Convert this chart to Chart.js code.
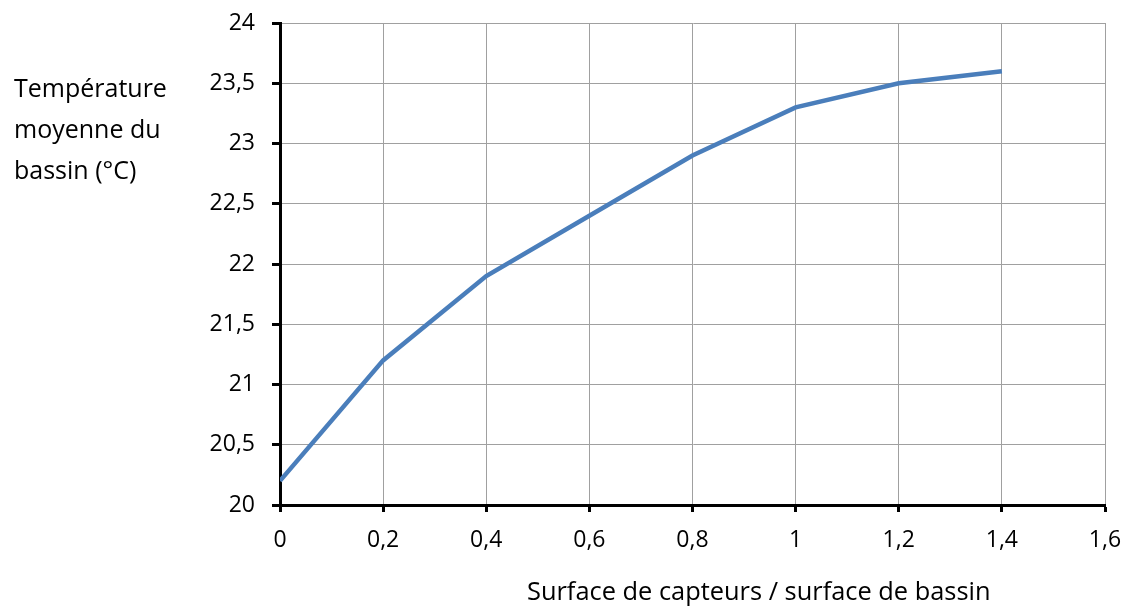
<!DOCTYPE html>
<html>
<head>
<meta charset="utf-8">
<script src="https://cdn.jsdelivr.net/npm/chart.js@4"></script>
<style>
  html, body { margin: 0; padding: 0; background: #fff; }
  #wrap { position: relative; width: 1127px; height: 606px; }
  canvas { position: absolute; left: 0; top: 0; }
  .t { position: absolute; font-family: "Open Sans", sans-serif; color: #000; white-space: nowrap; }
  #ytitle { left: 14px; top: 67px; font-size: 25px; line-height: 41px; }
  #xtitle { left: 527px; top: 570px; font-size: 25.4px; line-height: 41px; }
</style>
</head>
<body>
<div id="wrap">
  <canvas id="c" width="1127" height="606"></canvas>
  <div id="ytitle" class="t">Température<br>moyenne du<br>bassin (°C)</div>
  <div id="xtitle" class="t">Surface de capteurs / surface de bassin</div>
</div>
<script>
const ratios = [0, 0.2, 0.4, 0.6, 0.8, 1, 1.2, 1.4];
const temperatures = [20.2, 21.2, 21.9, 22.4, 22.9, 23.3, 23.5, 23.6];
const xTickValues = [0, 0.2, 0.4, 0.6, 0.8, 1, 1.2, 1.4, 1.6];
const yTickValues = [20, 20.5, 21, 21.5, 22, 22.5, 23, 23.5, 24];

const fmt = v => parseFloat(Number(v).toFixed(2)).toString().replace('.', ',');
const tickFont = { family: "Open Sans, sans-serif", size: 23 };

new Chart(document.getElementById('c'), {
  type: 'line',
  data: {
    datasets: [{
      data: ratios.map((x, i) => ({ x: x, y: temperatures[i] })),
      borderColor: '#4a7ebb',
      borderWidth: 4.5,
      pointRadius: 0,
      tension: 0,
      fill: false
    }]
  },
  options: {
    responsive: false,
    animation: false,
    devicePixelRatio: 1,
    layout: { padding: { left: 0, right: 22, top: 23, bottom: 0 } },
    plugins: { legend: { display: false }, tooltip: { enabled: false } },
    scales: {
      x: {
        type: 'linear',
        min: 0, max: 1.6,
        afterBuildTicks: s => { s.ticks = xTickValues.map(v => ({ value: v })); },
        afterFit: s => { s.height = 101; s.paddingLeft = 0; s.paddingRight = 0; },
        ticks: { callback: v => fmt(v), color: '#000', font: tickFont, padding: 15, maxRotation: 0, autoSkip: false },
        grid: { color: '#a0a0a0', lineWidth: 1, tickColor: '#000', tickWidth: 3, tickLength: 7 },
        border: { color: '#000', width: 3 }
      },
      y: {
        type: 'linear',
        min: 20, max: 24,
        afterBuildTicks: s => { s.ticks = yTickValues.map(v => ({ value: v })); },
        afterFit: s => { s.width = 280; s.paddingTop = 0; s.paddingBottom = 0; },
        ticks: { callback: v => fmt(v), color: '#000', font: tickFont, padding: 17, autoSkip: false },
        grid: { color: '#a0a0a0', lineWidth: 1, tickColor: '#000', tickWidth: 3, tickLength: 8 },
        border: { color: '#000', width: 3 }
      }
    }
  }
});
</script>
</body>
</html>
